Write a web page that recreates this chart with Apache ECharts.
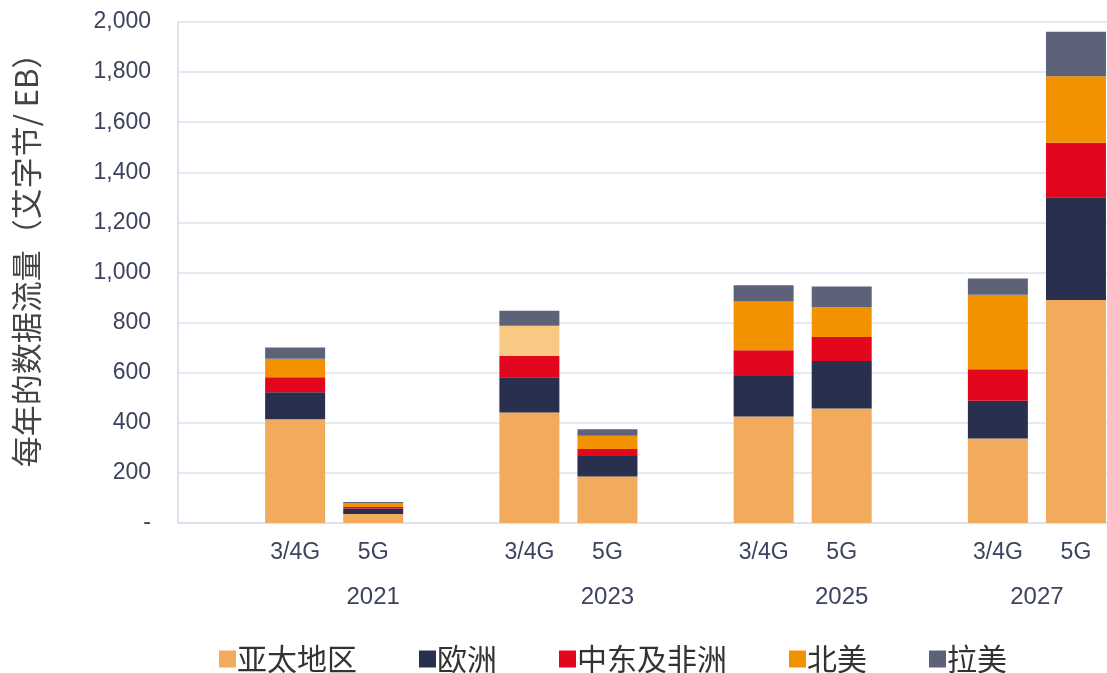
<!DOCTYPE html>
<html>
<head>
<meta charset="utf-8">
<script src="https://cdn.jsdelivr.net/npm/echarts@6/dist/echarts.min.js"></script>
<style>
html,body{margin:0;padding:0;background:#fff;}
#chart{width:1107px;height:673px;}
</style>
</head>
<body>
<div id="chart"></div>
<script>
// ---- data ----
var years = ['2021', '2023', '2025', '2027'];
var techs = ['3/4G', '5G'];
var seriesNames = ['亚太地区', '欧洲', '中东及非洲', '北美', '拉美'];
// values per bar: 2021 3/4G, 2021 5G, 2023 3/4G, 2023 5G, 2025 3/4G, 2025 5G, 2027 3/4G, 2027 5G
var apac  = [414, 36, 441, 186, 425, 457, 337, 890];
var europe= [108, 22, 141, 81, 162, 190, 151, 410];
var mea   = [60, 6, 86, 28, 103, 96, 126, 218];
var na    = [74, 16, 119, 53, 194, 119, 297, 265];
var latam = [45, 4, 60, 26, 65, 82, 65, 178];
var yTicks = [0, 200, 400, 600, 800, 1000, 1200, 1400, 1600, 1800, 2000];

// ---- styling / layout ----
var colors = ['#F2AB5C', '#28304D', '#E2061E', '#F39200', '#5E6278'];
var lightNA = '#F7C982';       // lighter 北美 shade used on the 2023 3/4G bar
var lightNAIndex = 2;
var yearLabelPos = [2.5, 5.5, 8.5, 11.0];
var fontLatin = "'Liberation Sans', Arial, 'Noto Sans CJK SC', sans-serif";
var fontCJK = "'Noto Sans CJK SC', 'Liberation Sans', sans-serif";
var labelColor = '#3D425E';

// build 12 slots: blank, 3/4G, 5G per year
var categories = [];
var slotMap = []; // slot index -> bar index or -1
var b = 0;
years.forEach(function () {
  categories.push(''); slotMap.push(-1);
  techs.forEach(function (t) { categories.push(t); slotMap.push(b++); });
});

var raw = [apac, europe, mea, na, latam];
var series = raw.map(function (arr, si) {
  return {
    name: seriesNames[si],
    type: 'bar',
    stack: 'total',
    barWidth: 60,
    itemStyle: { color: colors[si] },
    emphasis: { disabled: true },
    data: slotMap.map(function (bi) {
      if (bi < 0) return '-';
      if (si === 3 && bi === lightNAIndex) {
        return { value: arr[bi], itemStyle: { color: lightNA } };
      }
      return arr[bi];
    })
  };
});

var chart = echarts.init(document.getElementById('chart'));
chart.setOption({
  animation: false,
  color: colors,
  grid: { left: 178, width: 937, top: 22, bottom: 150, containLabel: false, outerBoundsMode: 'none' },
  legend: {
    data: seriesNames,
    left: 214,
    top: 639,
    itemWidth: 17,
    itemHeight: 17,
    itemGap: 62,
    icon: 'rect',
    textStyle: { fontFamily: fontCJK, fontSize: 30, color: '#333333', padding: [0, 0, 0, -4] }
  },
  xAxis: [{
    type: 'category',
    data: categories,
    axisLine: { show: true, lineStyle: { color: '#DADEEB', width: 1.5 } },
    axisTick: { show: false },
    axisLabel: { interval: 0, margin: 18, fontFamily: fontLatin, fontSize: 23, color: labelColor }
  }, {
    type: 'value',
    min: 0,
    max: categories.length,
    position: 'bottom',
    offset: 54,
    axisLine: { show: false },
    axisTick: { show: false },
    splitLine: { show: false },
    axisLabel: {
      customValues: yearLabelPos,
      fontFamily: fontLatin, fontSize: 24, color: labelColor,
      formatter: function (v) {
        var i = yearLabelPos.indexOf(v);
        return i >= 0 ? years[i] : '';
      }
    }
  }],
  yAxis: {
    type: 'value',
    min: yTicks[0],
    max: yTicks[yTicks.length - 1],
    interval: yTicks[1] - yTicks[0],
    name: '每年的数据流量（艾字节/ EB）',
    nameLocation: 'middle',
    nameGap: 136,
    nameRotate: 90,
    nameTextStyle: { fontFamily: fontCJK, fontSize: 31, color: '#444444', padding: [0, 0, 0, 40] },
    axisLine: { show: true, lineStyle: { color: '#D5D9E8', width: 1.5 } },
    axisTick: { show: false },
    splitLine: { show: true, lineStyle: { color: '#DEE2EE', width: 1.5 } },
    axisLabel: {
      margin: 27,
      fontFamily: fontLatin, fontSize: 23, color: labelColor,
      formatter: function (v) { return v === 0 ? '-' : v.toLocaleString('en-US'); }
    }
  },
  series: series
});
</script>
</body>
</html>
